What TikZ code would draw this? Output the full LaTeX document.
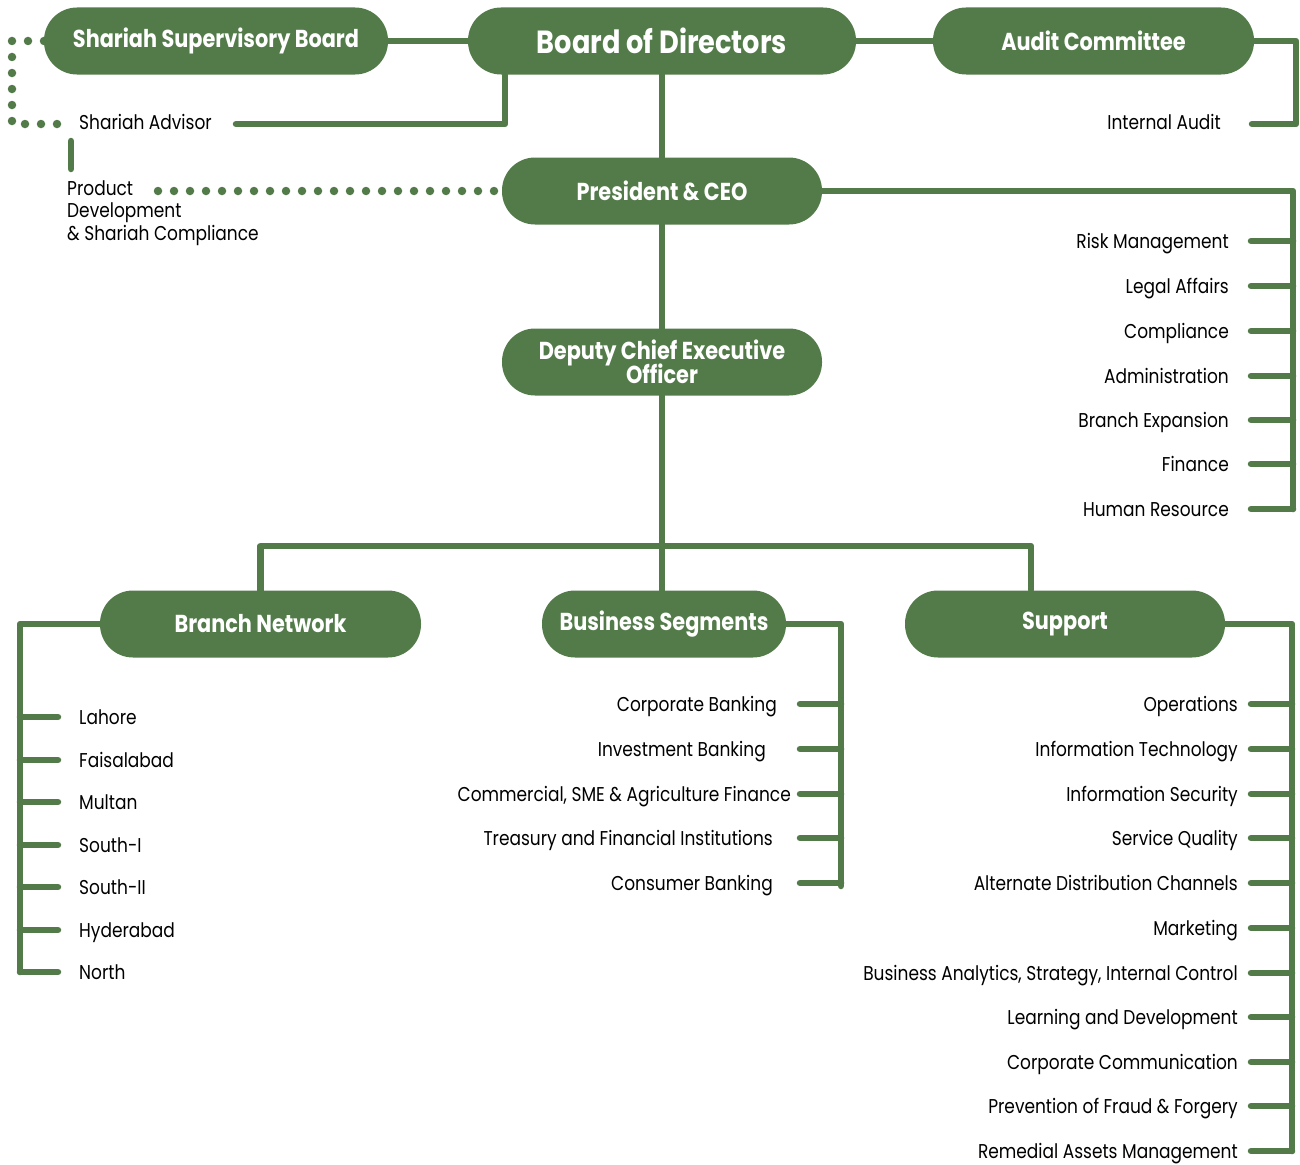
\documentclass[tikz,border=0pt]{standalone}
\usepackage{fontspec}
\setmainfont[FakeStretch=0.85]{Poppins}
\definecolor{gr}{RGB}{83,123,74}
\begin{document}
\begin{tikzpicture}[x=1pt,y=-1pt,
  pill/.style={fill=gr, rounded corners=33pt, minimum height=67pt, text=white,
    font=\bfseries\fontsize{24.5}{22}\selectfont, inner sep=0pt, align=center},
  big/.style={font=\bfseries\fontsize{32}{30}\selectfont},
  conn/.style={draw=gr, line width=6.5pt, line join=round, line cap=round},
  dots/.style={draw=gr, line width=8.5pt, line cap=round, dash pattern=on 0pt off 16pt},
  lbl/.style={font=\fontsize{20}{22.5}\selectfont, inner sep=0pt, text=black},
  lblr/.style={lbl, anchor=base east},
  lbll/.style={lbl, anchor=base west}]
\useasboundingbox (0,0) rectangle (1300,1164);

% dotted links (behind nodes)
\coordinate (sadot) at (62,124);
\coordinate (pddot) at (158,191);
\coordinate (sslft) at (44,41);
\draw[dots] (sslft) -- (12,41) -- (12,124) -- (sadot);

% main nodes
\node[pill, minimum width=344pt] (ssb) at (216,41) {Shariah Supervisory Board};
\node[pill, big, minimum width=388pt] (bod) at (662,41) {Board of Directors};
\node[pill, minimum width=321pt] (ac) at (1093.5,41) {Audit Committee};
\node[pill, minimum width=320pt] (ceo) at (662,191) {President \& CEO};
\node[pill, minimum width=320pt] (dceo) at (662,362) {Deputy Chief Executive\\[-3pt]Officer};
\node[pill, minimum width=321pt] (bn) at (260.5,624) {Branch Network};
\node[pill, minimum width=244pt] (bs) at (664,624) {Business Segments};
\node[pill, minimum width=320pt] (sup) at (1065,624) {Support};

\draw[dots] (pddot) -- (ceo.west);

% top connections
\draw[conn] (ssb.east) -- (bod.west);
\draw[conn] (bod.east) -- (ac.west);
\coordinate (iastub) at (1252,124);
\draw[conn] (ac.east) -- (1296,41) -- (1296,124) -- (iastub);
\node[lblr] (ia) at (1221,129) {Internal Audit};

\coordinate (bodsa) at (505,75);
\coordinate (sastub) at (236,124);
\draw[conn] (bodsa) -- (505,124) -- (sastub);
\node[lbll] (sa) at (79,129) {Shariah Advisor};

\coordinate (pdtop) at (71,141);
\coordinate (pdbot) at (71,169);
\draw[conn] (pdtop) -- (pdbot);
\node[lbll, align=left, anchor=north west] (pd) at (67,180) {Product\\Development\\\& Shariah Compliance};

% vertical spine
\draw[conn] (bod.south) -- (ceo.north);
\draw[conn] (ceo.south) -- (dceo.north);
\draw[conn] (dceo.south) -- (dceo.south |- bs.north);
\coordinate (supin) at (1031,590);
\draw[conn] (bn.north) -- (bn.north |- 0,546) -- (supin |- 0,546) -- (supin);

% CEO staff functions
\draw[conn] (ceo.east) -| (1293,509);
\foreach \y/\t [count=\i] in {241/Risk Management,286/Legal Affairs,331/Compliance,376/Administration,420/Branch Expansion,464/Finance,509/Human Resource}{
  \coordinate (cs\i) at (1251,\y);
  \draw[conn] (1293,\y) -- (cs\i);
  \node[lblr] (cl\i) at (1229,\y+7) {\t};
}

% Branch network
\draw[conn] (bn.west) -| (20,972);
\foreach \y/\t [count=\i] in {717/Lahore,760/Faisalabad,802/Multan,845/South-I,887/South-II,930/Hyderabad,972/North}{
  \coordinate (bns\i) at (58,\y);
  \draw[conn] (20,\y) -- (bns\i);
  \node[lbll] (bnl\i) at (79,\y+7) {\t};
}

% Business segments
\draw[conn] (bs.east) -| (841,886);
\foreach \y/\x/\t [count=\i] in {704/777/Corporate Banking,749/766/Investment Banking,794/791/{Commercial, SME \& Agriculture Finance},838/773/Treasury and Financial Institutions,883/773/Consumer Banking}{
  \coordinate (bss\i) at (800,\y);
  \draw[conn] (841,\y) -- (bss\i);
  \node[lblr] (bsl\i) at (\x,\y+7) {\t};
}

% Support
\draw[conn] (sup.east) -| (1292,1151);
\foreach \y/\t [count=\i] in {704/Operations,749/Information Technology,794/Information Security,838/Service Quality,883/Alternate Distribution Channels,928/Marketing,973/{Business Analytics, Strategy, Internal Control},1017/Learning and Development,1062/Corporate Communication,1106/Prevention of Fraud \& Forgery,1151/Remedial Assets Management}{
  \coordinate (sus\i) at (1251,\y);
  \draw[conn] (1292,\y) -- (sus\i);
  \node[lblr] (sul\i) at (1238,\y+7) {\t};
}
\end{tikzpicture}
\end{document}
